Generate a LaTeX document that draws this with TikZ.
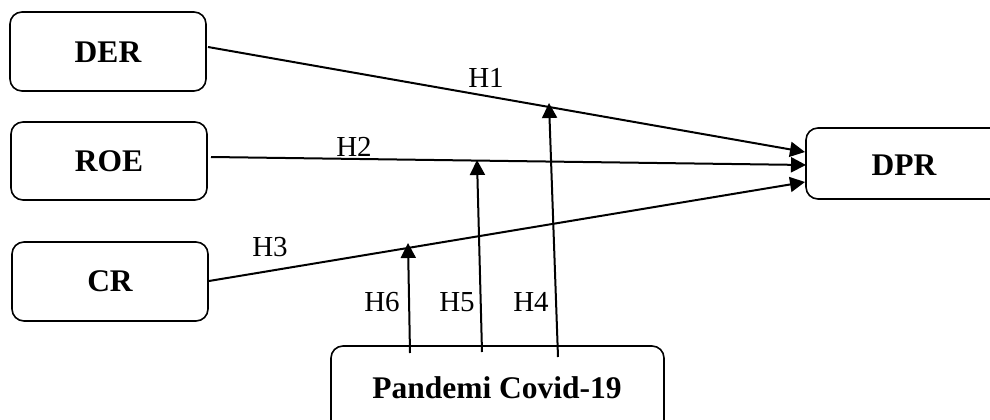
\documentclass[tikz,border=0pt]{standalone}
\usepackage{fontspec}
\setmainfont{Liberation Serif}
\usetikzlibrary{arrows.meta}
\begin{document}
\begin{tikzpicture}[x=1pt,y=-1pt,
  box/.style={draw=black,line width=1.6pt,rounded corners=12pt,inner sep=0pt},
  boxtext/.style={font=\fontsize{31.5}{36}\selectfont\bfseries},
  hlabel/.style={font=\fontsize{29}{34}\selectfont,inner sep=0pt},
  conn/.style={line width=2pt,-{Triangle[length=15pt,width=15pt]}}]
\useasboundingbox (0,0) rectangle (990,420);
\clip (0,0) rectangle (990,420);
% boxes
\draw[box] (10,12) rectangle (206,91);
\draw[box] (11,122) rectangle (207,200);
\draw[box] (12,242) rectangle (208,321);
\draw[box] (806,128) rectangle (1004,199);
\draw[box] (331,346) rectangle (664,440);
\node[boxtext] (DER) at (108,52) {DER};
\node[boxtext] (ROE) at (109,161) {ROE};
\node[boxtext] (CR) at (110,281) {CR};
\node[boxtext] (DPR) at (904,165) {DPR};
\node[boxtext] (PC) at (497,388) {Pandemi Covid-19};
% connector end points
\coordinate (derout) at (208,47);
\coordinate (roeout) at (211,157);
\coordinate (crout) at (209,281);
\coordinate (dprin1) at (805,152);
\coordinate (dprin2) at (806,165);
\coordinate (dprin3) at (805,182);
\coordinate (m6) at (410,353);
\coordinate (m5) at (482,352);
\coordinate (m4) at (558,357);
\coordinate (t6) at (408,243);
\coordinate (t5) at (477,160);
\coordinate (t4) at (549,103);
% connectors
\draw[conn] (derout) -- (dprin1);
\draw[conn] (roeout) -- (dprin2);
\draw[conn] (crout) -- (dprin3);
\draw[conn] (m6) -- (t6);
\draw[conn] (m5) -- (t5);
\draw[conn] (m4) -- (t4);
% labels
\node[hlabel] (H1) at (486,78) {H1};
\node[hlabel] (H2) at (354,147) {H2};
\node[hlabel] (H3) at (270,247) {H3};
\node[hlabel] (H6) at (382,302) {H6};
\node[hlabel] (H5) at (457,302) {H5};
\node[hlabel] (H4) at (531,302) {H4};
\end{tikzpicture}
\end{document}
